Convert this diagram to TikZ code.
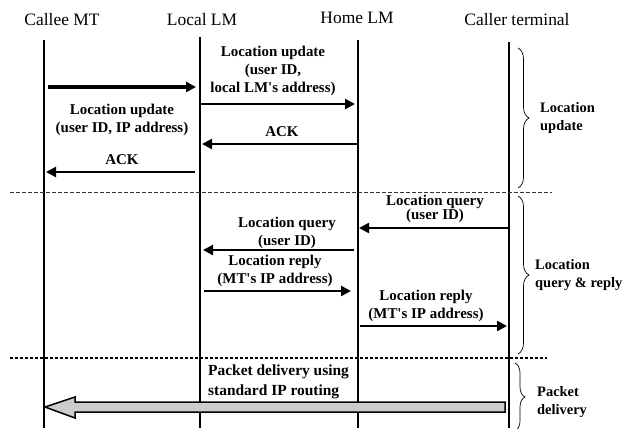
\documentclass[tikz,border=0pt]{standalone}
\usepackage{fontspec}
\setmainfont{Liberation Serif}
\usetikzlibrary{arrows.meta,decorations.pathreplacing,calc}
\begin{document}
\begin{tikzpicture}[x=1bp,y=-1bp,
  hdr/.style={font=\fontsize{17.5}{20}\selectfont, anchor=base, inner sep=0},
  lbl/.style={font=\bfseries\fontsize{15}{18}\selectfont, align=center, inner sep=0},
  lifeline/.style={line width=1.6bp},
  msg/.style={line width=2.2bp, -{Triangle[length=10bp,width=10bp]}},
  sep1/.style={line width=0.8bp, dash pattern=on 4bp off 2bp, black!80},
  sep2/.style={line width=1.6bp, dash pattern=on 3bp off 2bp},
  brc/.style={line width=0.7bp, decorate, decoration={brace, amplitude=11bp}},
  blbl/.style={font=\bfseries\fontsize{14.5}{18.5}\selectfont, align=left, anchor=west, inner sep=0}]
\useasboundingbox (0,0) rectangle (625,428);
\fill[white] (0,0) rectangle (625,428);
% headers
\node[hdr] (hA) at (62,25) {Callee MT};
\node[hdr] (hB) at (202,25) {Local LM};
\node[hdr] (hC) at (357,23) {Home LM};
\node[hdr] (hD) at (517,25) {Caller terminal};
% lifelines
\coordinate (A0) at (44,40);  \coordinate (A1) at (44,428);
\coordinate (B0) at (200,37); \coordinate (B1) at (200,428);
\coordinate (C0) at (358,40); \coordinate (C1) at (358,428);
\coordinate (D0) at (509,42); \coordinate (D1) at (509,428);
\draw[lifeline] (A0) -- (A1);
\draw[lifeline] (B0) -- (B1);
\draw[lifeline] (C0) -- (C1);
\draw[lifeline] (D0) -- (D1);
% separators
\coordinate (s1a) at (10,192); \coordinate (s1b) at (552,192);
\coordinate (s2a) at (10,358); \coordinate (s2b) at (547,358);
\draw[sep1] (s1a) -- (s1b);
\draw[sep2] (s2a) -- (s2b);
% section 1
\coordinate (m1s) at (48,87);   \coordinate (m1e) at (196,87);
\draw[msg, line width=3.2bp] (m1s) -- (m1e);
\node[lbl] (l1) at (122,120) {Location update\\(user ID, IP address)};
\coordinate (m2s) at (201,104);  \coordinate (m2e) at (355,104);
\draw[msg] (m2s) -- (m2e);
\node[lbl] (l2) at (273,71) {Location update\\(user ID,\\local LM\textquotesingle s address)};
\coordinate (m3s) at (357,144);  \coordinate (m3e) at (202,144);
\draw[msg] (m3s) -- (m3e);
\node[lbl] (l3) at (282,132) {ACK};
\coordinate (m4s) at (195,172);  \coordinate (m4e) at (46,172);
\draw[msg] (m4s) -- (m4e);
\node[lbl] (l4) at (122,160) {ACK};
% section 2
\coordinate (m5s) at (509,228);  \coordinate (m5e) at (359,228);
\draw[msg] (m5s) -- (m5e);
\node[lbl, font=\bfseries\fontsize{15}{14}\selectfont] (l5) at (435,209) {Location query\\(user ID)};
\coordinate (m6s) at (354,250);  \coordinate (m6e) at (203,250);
\draw[msg] (m6s) -- (m6e);
\node[lbl] (l6) at (287,233) {Location query\\(user ID)};
\coordinate (m7s) at (204,291);  \coordinate (m7e) at (351,291);
\draw[msg] (m7s) -- (m7e);
\node[lbl] (l7) at (275,271) {Location reply\\(MT\textquotesingle s IP address)};
\coordinate (m8s) at (360,326);  \coordinate (m8e) at (507,326);
\draw[msg] (m8s) -- (m8e);
\node[lbl] (l8) at (426,306) {Location reply\\(MT\textquotesingle s IP address)};
% section 3
\node[lbl, font=\bfseries\fontsize{15.5}{20}\selectfont, align=left, anchor=west] (l9) at (208,382) {Packet delivery using\\standard IP routing};
\coordinate (pkS) at (505,407); \coordinate (pkE) at (45,407);
\draw[line width=1.5bp, fill=black!20, line join=miter]
  ($(pkS)+(0,-5)$) -- (75,402) -- (75,397) -- (pkE) -- (75,418) -- (75,412) -- ($(pkS)+(0,5)$) -- cycle;
% braces
\coordinate (b1a) at (518,48);  \coordinate (b1b) at (518,188);
\draw[brc] (b1a) -- (b1b);
\node[blbl] (t1) at (540,118) {Location\\update};
\coordinate (b2a) at (518,196); \coordinate (b2b) at (518,354);
\draw[brc] (b2a) -- (b2b);
\node[blbl] (t2) at (535,275) {Location\\query \& reply};
\coordinate (b3a) at (515,363); \coordinate (b3b) at (515,431);
\draw[brc, decoration={brace, amplitude=10bp}] (b3a) -- (b3b);
\node[blbl] (t3) at (537,402) {Packet\\delivery};
\end{tikzpicture}
\end{document}
